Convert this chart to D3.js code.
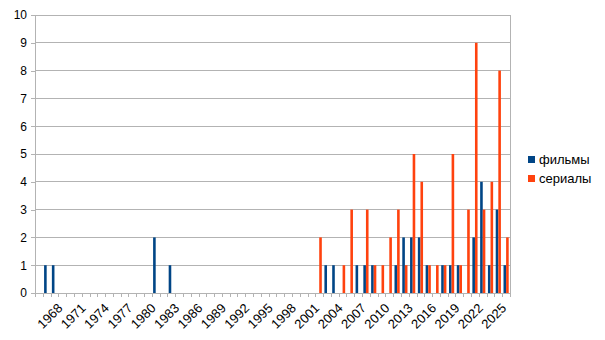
<!DOCTYPE html>
<html>
<head>
<meta charset="utf-8">
<script src="https://cdn.jsdelivr.net/npm/d3@7"></script>
<style>
body{margin:0;background:#fff;}
svg{display:block;font-family:"Liberation Sans",Arial,sans-serif;}
</style>
</head>
<body>
<svg id="chart" width="605" height="340"></svg>
<script>
const years = d3.range(1965, 2026).map(String);
const seriesNames = ["фильмы", "сериалы"];
const colors = ["#004586", "#ff420e"];
const films = {1966:1,1967:1,1980:2,1982:1,2002:1,2003:1,2006:1,2007:1,2008:1,2011:1,2012:2,2013:2,2014:2,2015:1,2017:1,2018:1,2019:1,2021:2,2022:4,2023:1,2024:3,2025:1};
const serials = {2001:2,2004:1,2005:3,2007:3,2008:1,2009:1,2010:2,2011:3,2012:1,2013:5,2014:4,2015:1,2016:1,2017:1,2018:5,2019:1,2020:3,2021:9,2022:3,2023:4,2024:8,2025:2};
const tickLabels = d3.range(1968, 2026, 3).map(String);
const yTicks = d3.range(0, 11);

const svg = d3.select("#chart");
const m = {left:35, right:510, top:15, bottom:293};

const x = d3.scaleBand().domain(years).range([m.left, m.right]).padding(0);
const xs = d3.scaleBand().domain(seriesNames).range([0, x.bandwidth()]).paddingInner(0).paddingOuter(0.5);
const y = d3.scaleLinear().domain([0, 10]).range([m.bottom, m.top]);

// grid
svg.append("g").selectAll("line").data(yTicks).join("line")
  .attr("x1", m.left).attr("x2", m.right)
  .attr("y1", d => y(d)).attr("y2", d => y(d))
  .attr("stroke", "#b3b3b3").attr("stroke-width", 1)
  .attr("shape-rendering", "crispEdges");

// right border line
svg.append("line").attr("x1", m.right).attr("x2", m.right).attr("y1", m.top).attr("y2", m.bottom)
  .attr("stroke", "#b3b3b3").attr("shape-rendering", "crispEdges");

// y axis
const yAxis = svg.append("g").attr("transform", `translate(${m.left},0)`)
  .call(d3.axisLeft(y).tickValues(yTicks).tickSize(4).tickPadding(4).tickFormat(d3.format("d")));
yAxis.select(".domain").attr("stroke", "#b3b3b3").attr("shape-rendering", "crispEdges");
yAxis.selectAll(".tick line").attr("stroke", "#b3b3b3").attr("shape-rendering", "crispEdges");
yAxis.selectAll("text").attr("font-size", 12).attr("fill", "#000")
  .attr("font-family", "Liberation Sans, Arial, sans-serif");

// bars
const data = [films, serials];
const g = svg.append("g");
seriesNames.forEach((s, i) => {
  g.append("g").selectAll("rect").data(years.filter(yr => data[i][yr])).join("rect")
    .attr("x", yr => x(yr) + xs(s))
    .attr("width", xs.bandwidth())
    .attr("y", yr => y(data[i][yr]))
    .attr("height", yr => y(0) - y(data[i][yr]))
    .attr("fill", colors[i]);
});

// x axis ticks at category boundaries
const bounds = years.map(yr => x(yr)).concat([m.right]);
svg.append("g").selectAll("line").data(bounds).join("line")
  .attr("x1", d => Math.round(d) + 0.5).attr("x2", d => Math.round(d) + 0.5)
  .attr("y1", m.bottom).attr("y2", m.bottom + 4)
  .attr("stroke", "#b3b3b3");
svg.append("line").attr("x1", m.left).attr("x2", m.right)
  .attr("y1", m.bottom + 0.5).attr("y2", m.bottom + 0.5).attr("stroke", "#b3b3b3");

// x labels
svg.append("g").selectAll("text").data(tickLabels).join("text")
  .attr("transform", d => `translate(${x(d) + x.bandwidth()/2 + 1},${m.bottom + 16}) rotate(-45)`)
  .attr("text-anchor", "end")
  .attr("font-size", 13)
  .attr("fill", "#000")
  .text(d => d);

// legend
const lg = svg.append("g");
seriesNames.forEach((s, i) => {
  lg.append("rect").attr("x", 528).attr("y", 156 + i*19).attr("width", 7).attr("height", 7).attr("fill", colors[i]);
  lg.append("text").attr("x", 539).attr("y", 164 + i*19).attr("font-size", 13).attr("fill", "#000").text(s);
});
</script>
</body>
</html>
